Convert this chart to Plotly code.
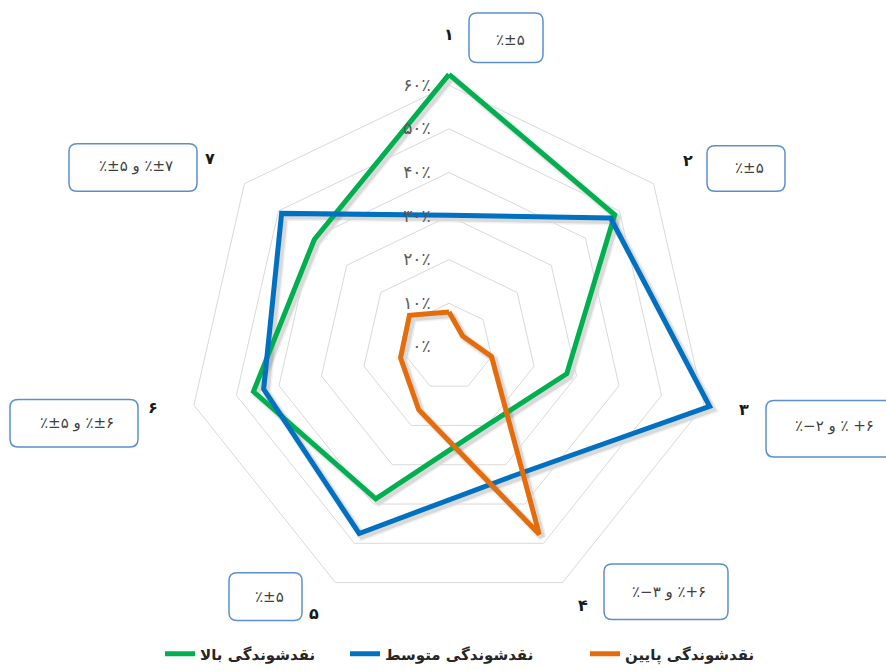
import plotly.graph_objects as go

# Seven liquidity groups around the radar
categories = ["۱", "۲", "۳", "۴", "۵", "۶", "۷"]

# Share (%) of each liquidity class per group
high_liq = [62.5, 48.6, 27.7, 20.0, 38.7, 46.0, 39.5]
mid_liq = [30.2, 47.4, 61.3, 33.0, 47.5, 43.6, 49.1]
low_liq = [8.0, 4.0, 10.0, 47.7, 16.0, 11.4, 11.6]

series_names = ["نقدشوندگی بالا", "نقدشوندگی متوسط", "نقدشوندگی پایین"]
series_colors = ["#00b050", "#0070c0", "#e46c0a"]

# Radial scale ticks
tick_vals = [0, 10, 20, 30, 40, 50, 60]
tick_text = ["۰٪", "۱۰٪", "۲۰٪", "۳۰٪", "۴۰٪", "۵۰٪", "۶۰٪"]

# Band text for each group: pieces in left-to-right display order
band_parts = [
    ["٪±۵"],
    ["٪±۵"],
    ["٪−۲", "و", "٪ +۶"],
    ["٪−۳", "و", "٪+۶"],
    ["٪±۵"],
    ["٪±۵", "و", "٪±۶"],
    ["٪±۵", "و", "٪±۷"],
]

W, H = 886, 671
R_MAX = 65
cx, cy, r_px = 449, 350, 286  # centre and outer radius in pixels
LRM = "\u200e"


def px(x):
    return x / W


def py(y):
    return 1 - y / H


def closed(vals):
    return vals + vals[:1]


theta = closed(categories)
fig = go.Figure()

series = [high_liq, mid_liq, low_liq]

# soft drop shadow, drawn on an offset copy of the polar frame
for vals in series:
    for w, a in [(9, 0.05), (6, 0.10)]:
        fig.add_trace(go.Scatterpolar(
            r=closed(vals), theta=theta, mode="lines",
            line=dict(color=f"rgba(0,0,0,{a})", width=w),
            subplot="polar", showlegend=False, hoverinfo="skip"))

legend_ids = ["legend", "legend2", "legend3"]
for vals, name, col, lg in zip(series, series_names, series_colors, legend_ids):
    fig.add_trace(go.Scatterpolar(
        r=closed(vals), theta=theta, mode="lines", name=name,
        line=dict(color=col, width=5), subplot="polar2", legend=lg))

off = 3
common_radial = dict(range=[0, R_MAX], showline=False)
common_ang = dict(rotation=90, direction="clockwise", showgrid=False,
                  showline=False, showticklabels=False, ticks="",
                  categoryarray=categories, categoryorder="array")

legend_font = dict(family="DejaVu Sans", size=15, color="#262626", weight="bold")
legend_x = [160, 345, 585]


def legend_box(x):
    return dict(orientation="h", x=px(x), y=py(660), xanchor="left", yanchor="middle",
                font=legend_font, bgcolor="rgba(0,0,0,0)")


fig.update_layout(
    width=W, height=H,
    margin=dict(l=0, r=0, t=0, b=0),
    paper_bgcolor="white",
    polar=dict(
        domain=dict(x=[px(cx - r_px + off), px(cx + r_px + off)],
                    y=[py(cy + r_px + off), py(cy - r_px + off)]),
        bgcolor="rgba(0,0,0,0)",
        gridshape="linear",
        radialaxis=dict(**common_radial, ticks="", showgrid=False, showticklabels=False),
        angularaxis=dict(**common_ang),
    ),
    polar2=dict(
        domain=dict(x=[px(cx - r_px), px(cx + r_px)],
                    y=[py(cy + r_px), py(cy - r_px)]),
        bgcolor="rgba(0,0,0,0)",
        gridshape="linear",
        radialaxis=dict(**common_radial, angle=90, side="counterclockwise",
                        tickvals=tick_vals, ticktext=tick_text, tickangle=90,
                        ticks="outside", ticklen=12, tickcolor="rgba(0,0,0,0)",
                        layer="above traces",
                        showgrid=True, gridcolor="#d9d9d9", gridwidth=1.2,
                        tickfont=dict(family="DejaVu Sans", size=17, color="#595959")),
        angularaxis=dict(**common_ang),
    ),
    showlegend=True,
    legend=legend_box(legend_x[0]),
    legend2=legend_box(legend_x[1]),
    legend3=legend_box(legend_x[2]),
)

# group numbers beside the vertices
num_pos = [(449, 35), (688, 162), (744, 413), (583, 611), (314, 619), (153, 411), (210, 160)]
for lab, (x, y) in zip(categories, num_pos):
    fig.add_annotation(x=px(x), y=py(y), xref="paper", yref="paper", text=f"<b>{lab}</b>",
                       xanchor="center", yanchor="middle", showarrow=False,
                       font=dict(family="DejaVu Sans", size=16, color="#1a1a1a"))

# rounded boxes holding each group's band
boxes = [(469, 13, 543, 63), (707, 147, 785, 193), (766, 404, 900, 461), (604, 569, 728, 625),
         (229, 578, 302, 626), (10, 403, 138, 451), (69, 145, 197, 193)]
text_pos = [(510, 40), (749, 170), (834, 430), (669, 597), (269, 602), (77, 427), (136, 167)]


def rounded(x0, y0, x1, y1, rad=8):
    X0, X1 = px(x0), px(x1)
    Y0, Y1 = py(y0), py(y1)
    rx, ry = rad / W, rad / H
    return (f"M {X0+rx},{Y0} L {X1-rx},{Y0} Q {X1},{Y0} {X1},{Y0-ry} "
            f"L {X1},{Y1+ry} Q {X1},{Y1} {X1-rx},{Y1} L {X0+rx},{Y1} "
            f"Q {X0},{Y1} {X0},{Y1+ry} L {X0},{Y0-ry} Q {X0},{Y0} {X0+rx},{Y0} Z")


for (x0, y0, x1, y1), parts, (tx, ty) in zip(boxes, band_parts, text_pos):
    fig.add_shape(type="path", xref="paper", yref="paper", path=rounded(x0, y0, x1, y1),
                  line=dict(color="#5b8fd0", width=1.5), fillcolor="white", layer="above")
    txt = (LRM + " ").join(p + LRM for p in parts) if len(parts) > 1 else parts[0]
    fig.add_annotation(x=px(tx), y=py(ty), xref="paper", yref="paper",
                       text=LRM + txt, showarrow=False, xanchor="center", yanchor="middle",
                       font=dict(family="DejaVu Sans", size=15, color="#404040"))

fig.write_html("out.html")
